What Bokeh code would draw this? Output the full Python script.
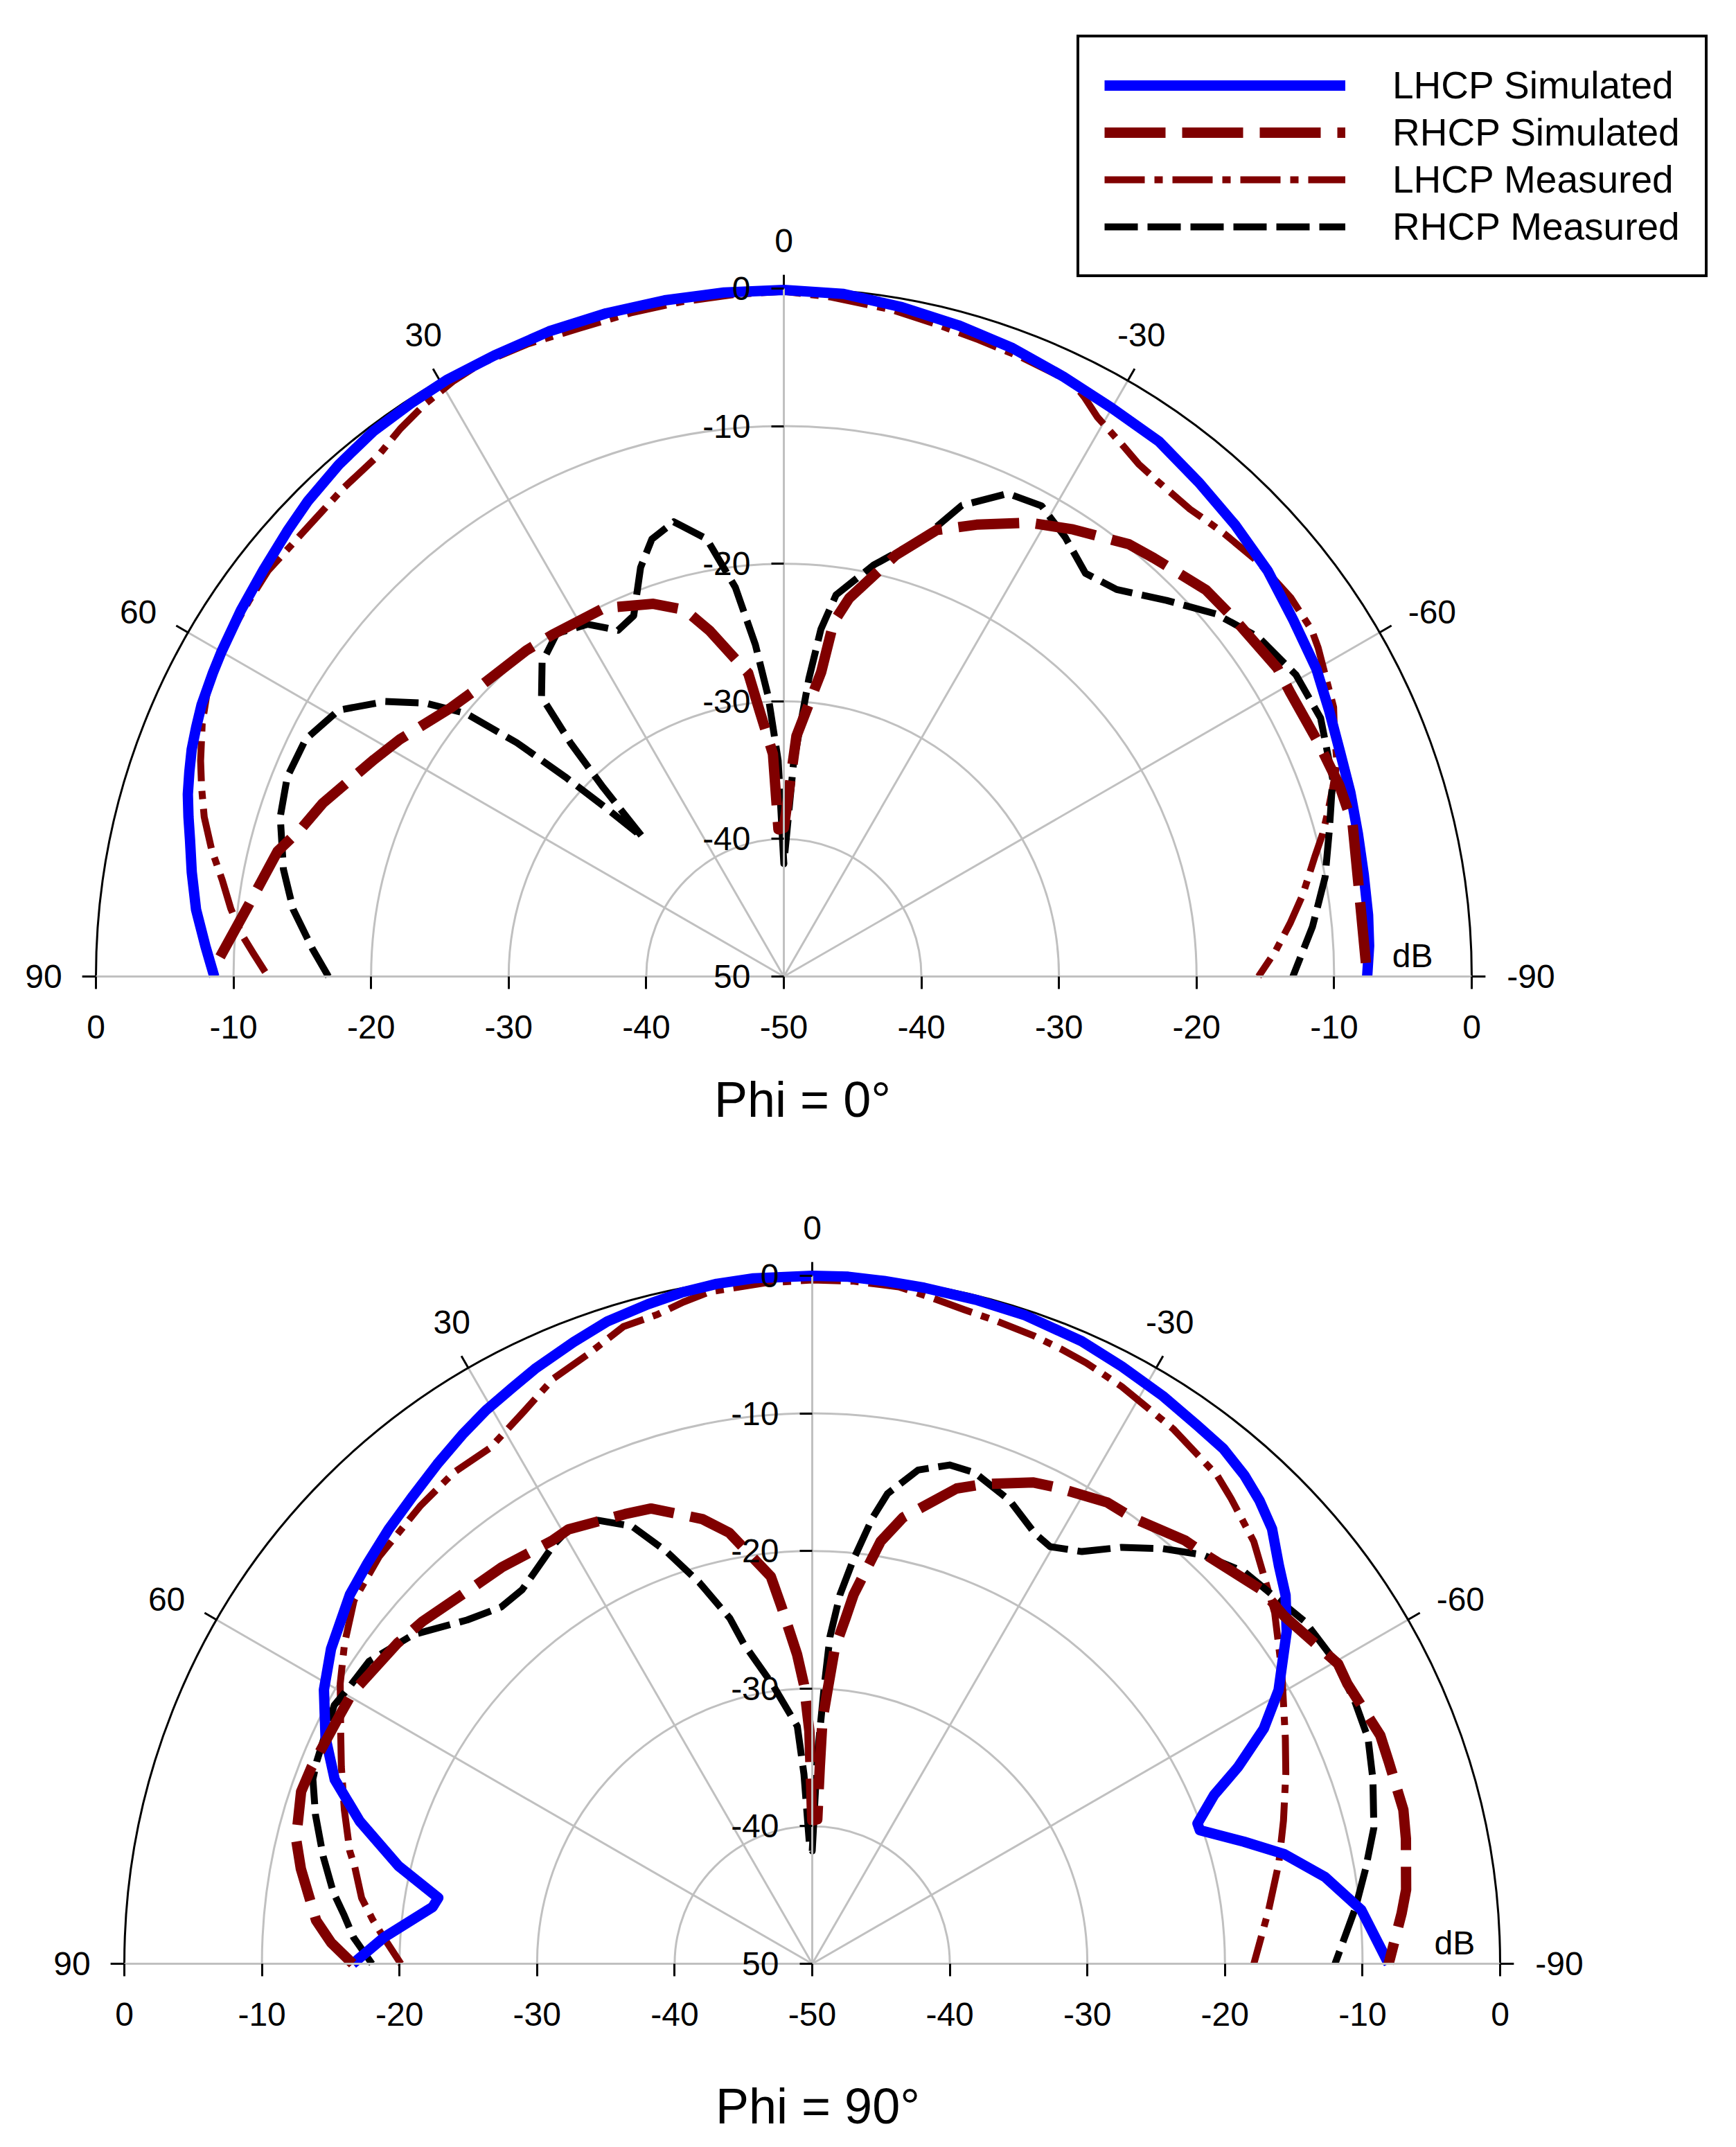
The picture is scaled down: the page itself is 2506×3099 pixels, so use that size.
import numpy as np
from bokeh.core.properties import value
from bokeh.embed import file_html
from bokeh.layouts import column
from bokeh.models import FixedTicker, Legend, LegendItem, LinearAxis
from bokeh.plotting import figure
from bokeh.resources import INLINE

# phi = 0 cut, angle in degrees (positive to the left), level in dB
top_lhcp_sim_theta = [90, 87, 83.5, 80, 77, 75, 73, 71, 69, 67, 65, 62, 60, 56, 52, 48, 45, 41, 37, 33, 29.5, 25, 20, 15, 10, 5, 0, -5, -10, -15, -20, -25, -30, -35, -40, -45, -50, -55, -60, -64, -68, -72, -76, -80, -84, -87, -90]
top_lhcp_sim_db = [-8.6, -7.9, -7.0, -6.3, -5.7, -5.2, -4.7, -4.3, -3.9, -3.6, -3.3, -3.0, -2.8, -2.4, -2.0, -1.5, -1.1, -0.7, -0.4, -0.3, -0.2, -0.2, -0.1, -0.1, -0.1, -0.1, -0.1, -0.2, -0.6, -1.0, -1.4, -1.9, -2.3, -2.5, -3.1, -3.6, -4.1, -4.8, -5.3, -5.9, -6.4, -6.7, -7.0, -7.2, -7.3, -7.4, -7.6]

top_rhcp_sim_theta = [88, 82.6, 76.1, 73, 69.4, 62.1, 58.3, 51.1, 47.1, 38.3, 34.1, 26, 19.3, 15.1, 12.1, 6.7, 5.1, 2.8, 2.1, 0, -3, -7, -8, -9.8, -14.9, -18.9, -23.1, -28.4, -32.9, -38.6, -41.5, -47.5, -51.5, -58, -60.8, -66.3, -71, -75, -80.9, -90]
top_rhcp_sim_db = [-9, -10.7, -12.1, -13.3, -14.2, -16.3, -17.2, -18.9, -19.4, -19.8, -20, -20.2, -21.3, -22.4, -24.3, -27.8, -30.8, -33.8, -39.3, -39.2, -32.5, -27.7, -24, -22.1, -18.3, -15.7, -14.3, -12.5, -11.3, -9.8, -9.4, -8.4, -8.2, -7.7, -7.8, -7.6, -7.3, -7.2, -7.7, -7.6]

top_lhcp_meas_theta = [89.5, 87.5, 85.6, 83, 80.3, 77.5, 74.6, 72, 69.7, 66.5, 63.1, 58.8, 55, 51.8, 46, 42, 37.8, 35, 32.1, 29, 26.4, 22, 17.5, 13, 8.7, 4, 0, -4, -9.1, -13, -17, -21, -26, -27.5, -29.3, -32.5, -34.7, -37, -41, -43, -44.9, -48.9, -53.2, -56.7, -58.4, -60.6, -63.9, -66, -68.9, -71, -73.2, -75.2, -77.2, -81, -84, -87, -90]
top_lhcp_meas_db = [-12.3, -11.4, -10.5, -9.5, -8.6, -7.4, -6.3, -5.5, -4.8, -3.9, -3.1, -2.7, -2.5, -2.3, -2.4, -2.2, -2.0, -1.4, -0.9, -0.5, -0.3, -0.4, -0.6, -0.5, -0.4, -0.3, -0.2, -0.5, -0.9, -1.3, -1.6, -1.8, -2.0, -2.6, -3.4, -4.2, -4.7, -4.9, -5, -4.8, -4.6, -4.2, -4, -4.1, -4.4, -4.9, -5.5, -6.2, -6.9, -7.8, -8.7, -9.5, -10.4, -11.8, -13, -14.2, -15.5]

top_rhcp_meas_theta = [90, 86.7, 82.2, 77.9, 72.4, 68.1, 63.6, 59.1, 55.4, 52.7, 50.4, 48.8, 47.6, 46.6, 45.4, 43.7, 42.4, 40.9, 37.6, 33.5, 29.1, 25.6, 22.6, 19.3, 16.8, 13.6, 10, 7.1, 4.9, 3.2, 1.5, 0, -2.6, -4.8, -6.1, -7.8, -12.3, -17.7, -20.7, -24.9, -28.7, -32.7, -36.8, -40.7, -45.5, -50, -54.4, -59.5, -64.3, -70.2, -74.8, -79.6, -84.6, -90]
top_rhcp_meas_db = [-16.9, -15.7, -14, -12.8, -11.6, -11.1, -11.2, -12.3, -14.8, -17.2, -20, -24.2, -28.5, -32, -35.6, -31, -27, -23.1, -21.2, -20.1, -20.7, -22.1, -21.6, -18.5, -16.8, -16, -17.7, -21.5, -25.8, -29.6, -34.3, -41.8, -34.5, -28.3, -24.6, -22, -19.4, -16.5, -13.4, -11.3, -11, -12.1, -13.4, -12.9, -11, -9, -7.6, -6.8, -6.7, -7.6, -8.9, -10, -11.4, -13]

# phi = 90 cut
bot_lhcp_sim_theta = [90, 86.5, 81.5, 80, 76.7, 72.5, 68.9, 65.1, 60.7, 56.8, 51.4, 48, 44.3, 40.5, 36.9, 33.5, 30.5, 27.5, 25, 21, 17.7, 14, 11, 8, 4.9, 0, -3, -6, -9.4, -14, -18.2, -23.4, -27.4, -31.7, -35.6, -38.6, -41.5, -44, -46.6, -49.5, -52.1, -55, -59.6, -62.5, -65.2, -67.2, -70, -71, -74.2, -76.9, -80.4, -84.4, -90]
bot_lhcp_sim_db = [-16.6, -18.8, -22.1, -22.4, -19.1, -15.5, -12.8, -11, -9.3, -8.2, -7, -6.5, -5.9, -5.3, -4.6, -3.9, -3.3, -2.8, -2.3, -1.6, -1, -0.6, -0.3, -0.1, 0, 0, 0, -0.1, -0.2, -0.3, -0.4, -0.7, -1.1, -1.5, -1.9, -2.1, -2.6, -3.2, -4, -5.4, -6.4, -7.9, -10.7, -13, -15.9, -18.3, -20.2, -20.2, -17.4, -14.8, -12.2, -9.9, -8.1]

bot_rhcp_sim_theta = [90, 87.5, 85, 79.5, 76.4, 71.4, 68.6, 62, 59.5, 52.3, 48.7, 41.6, 38.1, 31.6, 29.3, 22.6, 19.5, 13.9, 10.9, 6.1, 4.9, 2.8, 1.7, 0.7, 0, -2, -2.2, -2.4, -3.2, -4.1, -5.5, -6.4, -9.2, -11.5, -16.9, -19.6, -24.7, -27.1, -32.6, -35.6, -41.4, -44.2, -50.3, -53.6, -60.3, -62.4, -68.1, -70.7, -75.4, -78.1, -82.9, -85.1, -90]
bot_rhcp_sim_db = [-16.6, -15, -13.8, -12.2, -11.4, -10.8, -10.9, -11.2, -11.2, -11.9, -12.3, -13.2, -13.4, -13.9, -13.8, -14.6, -14.9, -16.7, -18.1, -21.7, -24, -27.5, -29.7, -33.1, -39.6, -39.5, -35.7, -32.3, -30.1, -27, -24.8, -23, -18.9, -16.9, -13.9, -13, -11.5, -11.1, -10.2, -10.1, -9, -8.7, -7.5, -7.4, -6, -6.1, -5.5, -5.6, -5.6, -5.9, -6.5, -7, -8.1]

bot_lhcp_meas_theta = [90, 86.5, 84.3, 81.7, 78, 76.3, 71.8, 67.3, 63.8, 59.3, 55.6, 51.6, 46.8, 40.6, 36.1, 32, 27.5, 23.9, 20.2, 16.5, 13.5, 11, 8.7, 4, 0, -3.5, -7.3, -10, -13.1, -16, -19.4, -22, -24.5, -28.2, -34, -39.7, -42, -46.3, -52.8, -58.1, -64.5, -68.1, -73.1, -77.8, -83.3, -90]
bot_lhcp_meas_db = [-20.1, -18.8, -17.9, -16.9, -16, -15.4, -14.2, -12.9, -11.8, -10.1, -8.8, -7.5, -6.8, -6.2, -5.8, -5.8, -4.7, -3.5, -2.8, -1.7, -1.5, -1.0, -0.6, -0.4, -0.3, -0.3, -0.4, -0.8, -1.2, -1.4, -1.6, -1.8, -2, -2.4, -3.1, -3.9, -4.5, -5.6, -7.8, -9.8, -11.9, -12.9, -14.2, -15.3, -16.6, -17.9]

bot_rhcp_meas_theta = [90, 86.7, 84.1, 81.5, 77.6, 73.3, 69.7, 67.8, 61.6, 59.1, 55.7, 50.5, 45.1, 41.1, 37.8, 35.3, 31.6, 29.3, 25.8, 22.4, 19.5, 16.5, 13.4, 12.1, 8.1, 3.6, 2.5, 1.3, 0, -1.4, -2.5, -3.1, -4.3, -5.8, -7.7, -9.1, -12.1, -15.4, -18.3, -23.1, -27.4, -29.7, -33.2, -36.6, -40.2, -43.7, -47.8, -50.9, -55.2, -59.9, -64.3, -67.9, -71.8, -76.4, -80.3, -84.1, -90]
bot_rhcp_meas_db = [-18, -16.6, -15.8, -14.8, -13.6, -12.3, -11.3, -11.1, -10.5, -10.8, -11, -12.4, -14.6, -15.6, -15.6, -15.1, -14.2, -13.8, -14.2, -15.6, -18.2, -21.1, -24.2, -26.2, -29.5, -32.7, -36.2, -41.4, -41.8, -34.9, -29.7, -26.2, -23.1, -20.5, -17.3, -15.4, -13.3, -12.4, -12.4, -13.4, -14.8, -15.1, -14.2, -12.3, -10.5, -8.9, -7.6, -7.2, -6.4, -6.1, -6.2, -6.4, -7.1, -8, -9.2, -10.3, -12]

angle_ticks = [0, 30, 60, 90, -30, -60, -90]
spoke_angles = [30, 60, -30, -60]
ring_levels = [-10, -20, -30, -40]
floor_db = -50

FONT = value("Liberation Sans")
DARK_RED = "#800000"
GREY = "#c0c0c0"
PAGE_W = 2490
DB_PER_PX = 50 / 993
# nudges of the angle labels, same order as angle_ticks
LABEL_DX = [0, 12, -10, -4, -16, 14, 14]
LABEL_DY = [2, -4, 6, 0, -4, 6, 0]


def polar_xy(theta, db):
    t = np.radians(theta)
    r = np.array(db, dtype=float) - floor_db
    return -r * np.sin(t), r * np.cos(t)


def polar_plot(center_x, center_y, height, top, title, title_dx, title_dy, db_x):
    """one half polar chart, center_x/center_y are pixels of the pole from the figure corner"""
    left = center_x
    down = center_y - top
    p = figure(width=PAGE_W, height=height, output_backend="svg", toolbar_location=None,
               x_axis_type=None, y_axis_type=None, min_border=0, outline_line_color=None,
               x_range=(-left * DB_PER_PX, (PAGE_W - left) * DB_PER_PX),
               y_range=((down - height) * DB_PER_PX, down * DB_PER_PX))
    p.grid.visible = False

    # grey rings and spokes, black rim
    p.arc(0, 0, radius=[lv - floor_db for lv in ring_levels], start_angle=0, end_angle=np.pi,
          line_color=GREY, line_width=3)
    sx, sy = polar_xy(spoke_angles, [0] * len(spoke_angles))
    p.segment(0, 0, sx, sy, line_color=GREY, line_width=3)
    p.arc(0, 0, radius=-floor_db, start_angle=0, end_angle=np.pi, line_color="black", line_width=3)

    # ticks on the rim
    ix, iy = polar_xy(angle_ticks, [0] * len(angle_ticks))
    ox, oy = polar_xy(angle_ticks, [1] * len(angle_ticks))
    p.segment(ix, iy, ox, oy, line_color="black", line_width=3)

    lx, ly = polar_xy(angle_ticks, [3.6] * len(angle_ticks))
    p.text(lx, ly, text=[str(a) for a in angle_ticks], x_offset=LABEL_DX, y_offset=LABEL_DY,
           text_font=FONT, text_font_size="48px",
           text_align="center", text_baseline="middle", text_color="black")

    xaxis = LinearAxis(fixed_location=0, bounds=(floor_db, -floor_db))
    xticks = list(range(floor_db, -floor_db + 1, 10))
    xaxis.ticker = FixedTicker(ticks=xticks)
    xaxis.major_label_overrides = {t: str(abs(t) + floor_db) for t in xticks}
    yaxis = LinearAxis(fixed_location=0, bounds=(0, -floor_db))
    yticks = list(range(0, -floor_db + 1, 10))
    yaxis.ticker = FixedTicker(ticks=yticks)
    yaxis.major_label_overrides = {t: str(t + floor_db) if t else "50" for t in yticks}
    for ax in (xaxis, yaxis):
        ax.axis_line_color = GREY
        ax.axis_line_width = 3
        ax.major_tick_line_color = "black"
        ax.major_tick_line_width = 3
        ax.major_tick_in = 0
        ax.major_tick_out = 18
        ax.minor_tick_line_color = None
        ax.major_label_text_font = "Liberation Sans"
        ax.major_label_text_font_size = "48px"
        ax.major_label_text_color = "black"
    xaxis.major_label_standoff = 38
    yaxis.major_label_standoff = 30
    p.add_layout(xaxis, "below")
    p.add_layout(yaxis, "left")

    p.text([db_x], [1.5], text=["dB"], text_font=FONT, text_font_size="48px",
           text_align="center", text_baseline="middle", text_color="black")
    p.text([title_dx * DB_PER_PX], [-title_dy * DB_PER_PX], text=[title], text_font=FONT, text_font_size="72px",
           text_align="center", text_baseline="middle", text_color="black")
    return p


def add_curves(p, lhcp_sim, rhcp_sim, lhcp_meas, rhcp_meas):
    x, y = polar_xy(*lhcp_meas)
    r_lm = p.line(x, y, line_color=DARK_RED, line_width=10, line_dash=[58, 14, 12, 14], line_join="round")
    x, y = polar_xy(*rhcp_meas)
    r_rm = p.line(x, y, line_color="black", line_width=10, line_dash=[48, 14], line_join="round")
    x, y = polar_xy(*lhcp_sim)
    r_ls = p.line(x, y, line_color="#0000ff", line_width=15, line_join="round")
    x, y = polar_xy(*rhcp_sim)
    r_rs = p.line(x, y, line_color=DARK_RED, line_width=15, line_dash=[88, 24], line_join="round")
    return r_ls, r_rs, r_lm, r_rm


top = polar_plot(1131, 1409, 1700, 0, "Phi = 0°", 27, 177, 45.7)
r_ls, r_rs, r_lm, r_rm = add_curves(
    top,
    (top_lhcp_sim_theta, top_lhcp_sim_db),
    (top_rhcp_sim_theta, top_rhcp_sim_db),
    (top_lhcp_meas_theta, top_lhcp_meas_db),
    (top_rhcp_meas_theta, top_rhcp_meas_db),
)

legend = Legend(items=[
    LegendItem(label="LHCP Simulated", renderers=[r_ls]),
    LegendItem(label="RHCP Simulated", renderers=[r_rs]),
    LegendItem(label="LHCP Measured", renderers=[r_lm]),
    LegendItem(label="RHCP Measured", renderers=[r_rm]),
], location=(1554, 1300))
legend.border_line_color = "black"
legend.border_line_alpha = 1
legend.border_line_width = 4
legend.background_fill_color = "white"
legend.background_fill_alpha = 1
legend.padding = 36
legend.margin = 0
legend.spacing = 2
legend.glyph_width = 348
legend.glyph_height = 66
legend.label_height = 66
legend.label_standoff = 68
legend.label_text_font = "Liberation Sans"
legend.label_text_font_size = "55px"
legend.label_text_color = "black"
top.add_layout(legend)

bottom = polar_plot(1172, 2834, 1383, 1700, "Phi = 90°", 8, 205, 46.7)
add_curves(
    bottom,
    (bot_lhcp_sim_theta, bot_lhcp_sim_db),
    (bot_rhcp_sim_theta, bot_rhcp_sim_db),
    (bot_lhcp_meas_theta, bot_lhcp_meas_db),
    (bot_rhcp_meas_theta, bot_rhcp_meas_db),
)

page = column(top, bottom, spacing=0)
open("out.html", "w").write(file_html(page, INLINE))
